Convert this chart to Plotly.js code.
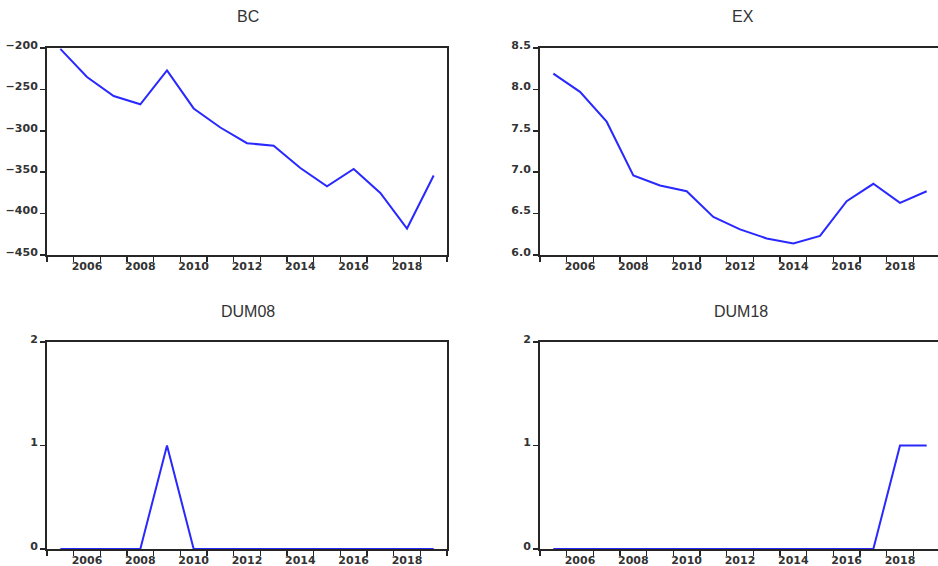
<!DOCTYPE html>
<html>
<head>
<meta charset="utf-8">
<script src="https://cdn.plot.ly/plotly-3.0.1.min.js"></script>
<style>
html,body{margin:0;padding:0;overflow:hidden;background:#fff;width:938px;height:566px;}
#chart{width:942px;height:566px;}
</style>
</head>
<body>
<div id="chart"></div>
<script>
// ---- data ----
const years = [2005,2006,2007,2008,2009,2010,2011,2012,2013,2014,2015,2016,2017,2018,2019];
const bc = [-201,-235,-258,-268,-227,-273,-296,-315,-318,-345,-367,-346,-375,-418,-354];
const ex = [8.19,7.97,7.61,6.96,6.84,6.77,6.46,6.31,6.20,6.14,6.23,6.65,6.86,6.63,6.77];
const dum08 = [0,0,0,0,1,0,0,0,0,0,0,0,0,0,0];
const dum18 = [0,0,0,0,0,0,0,0,0,0,0,0,0,1,1];
const xTickLabels = [2006,2008,2010,2012,2014,2016,2018];
const titles = ['BC','EX','DUM08','DUM18'];

// ---- layout ----
const W = 942, H = 566;
const tickFam = '"DejaVu Sans", Verdana, sans-serif';
const titleFam = '"Liberation Sans", Arial, sans-serif';
const lineColor = '#262626';
const blue = '#2828ff';

const boundaries = [];
for (let v = years[0] - 0.5; v <= years[years.length-1] + 0.5 + 1e-9; v += 1) boundaries.push(v);

const tickFont = {family: tickFam, size: 11, color: '#333', weight: 'bold'};

function xax(domain, anchor) {
  return {
    domain: domain, anchor: anchor,
    range: [years[0]-0.5, years[years.length-1]+0.5],
    tickmode: 'array', tickvals: xTickLabels, ticktext: xTickLabels.map(String),
    ticks: '', showgrid: false, zeroline: false,
    showline: true, mirror: true, linecolor: lineColor, linewidth: 2,
    tickfont: tickFont,
    minor: {tickmode: 'array', tickvals: boundaries, ticks: 'outside', ticklen: 5, tickwidth: 1.5, tickcolor: lineColor, showgrid: false},
    layer: 'below traces', fixedrange: true
  };
}
function yax(domain, anchor, range, dtick, fmt) {
  return {
    domain: domain, anchor: anchor, range: range, dtick: dtick, tick0: range[0],
    tickformat: fmt, ticks: 'outside', ticklen: 5, tickwidth: 1.5, tickcolor: lineColor,
    ticklabelshift: -3,
    showgrid: false, zeroline: false,
    showline: true, mirror: true, linecolor: lineColor, linewidth: 2,
    tickfont: tickFont,
    layer: 'below traces', fixedrange: true
  };
}

const xL = [47/W, 447/W], xR = [540/W, 940/W];
const yT = [(H-255)/H, (H-48)/H], yB = [(H-549)/H, (H-342)/H];

const series = [bc, ex, dum08, dum18];
const traces = series.map((s, i) => ({
  x: years, y: s, type: 'scatter', mode: 'lines',
  line: {color: blue, width: 2},
  xaxis: 'x' + (i === 0 ? '' : i+1), yaxis: 'y' + (i === 0 ? '' : i+1),
  hoverinfo: 'skip', showlegend: false
}));

const titlePos = [[248, 17], [743, 17], [248, 312], [741, 312]];
const annotations = titles.map((t, i) => ({
  text: t, xref: 'paper', yref: 'paper',
  x: titlePos[i][0]/W, y: (H - titlePos[i][1])/H,
  xanchor: 'center', yanchor: 'middle', showarrow: false,
  font: {family: titleFam, size: 16, color: '#333'}
}));

const layout = {
  width: W, height: H,
  margin: {l: 0, r: 0, t: 0, b: 0},
  paper_bgcolor: '#fff', plot_bgcolor: '#fff',
  showlegend: false,
  xaxis: xax(xL, 'y'),
  yaxis: yax(yT, 'x', [-450, -200], 50, ''),
  xaxis2: xax(xR, 'y2'),
  yaxis2: yax(yT, 'x2', [6, 8.5], 0.5, '.1f'),
  xaxis3: xax(xL, 'y3'),
  yaxis3: yax(yB, 'x3', [0, 2], 1, ''),
  xaxis4: xax(xR, 'y4'),
  yaxis4: yax(yB, 'x4', [0, 2], 1, ''),
  annotations: annotations
};

Plotly.newPlot('chart', traces, layout, {staticPlot: true, displayModeBar: false});
</script>
</body>
</html>
